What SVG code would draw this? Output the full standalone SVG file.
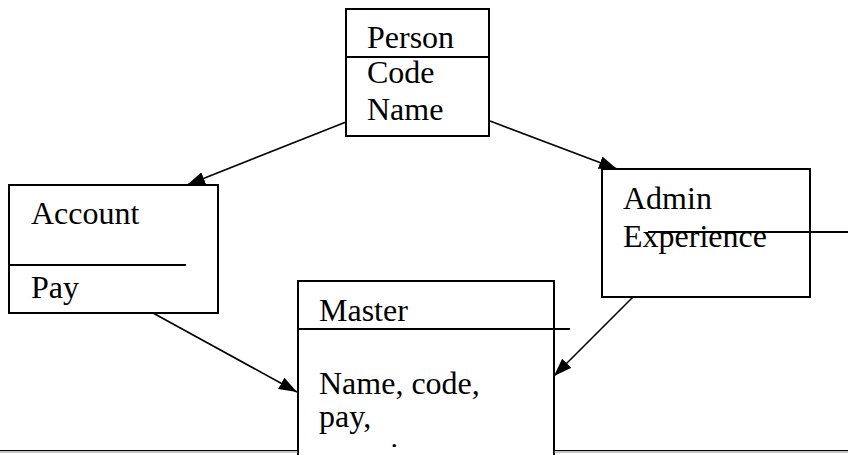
<svg xmlns="http://www.w3.org/2000/svg" width="848" height="455" viewBox="0 0 848 455">
  <style>
    .box { fill: #fff; stroke: #000; stroke-width: 2; }
    .rule { stroke: #000; stroke-width: 1.8; fill: none; }
    .edge { stroke: #000; stroke-width: 1.6; fill: none; marker-end: url(#arrow); }
    text { font-family: "Liberation Serif", "Times New Roman", serif; font-size: 32px; fill: #000; }
  </style>
  <defs>
    <marker id="arrow" viewBox="0 0 18 13" refX="18" refY="6.5" markerWidth="18" markerHeight="13" markerUnits="userSpaceOnUse" orient="auto">
      <path d="M0,0 L18,6.5 L0,13 Z" fill="#000"/>
    </marker>
    <!-- page area: content below the page break is hidden -->
    <clipPath id="page">
      <rect x="0" y="0" width="848" height="447"/>
    </clipPath>
  </defs>

  <rect width="848" height="455" fill="#fff"/>

  <g id="connectors">
    <line class="edge" x1="346" y1="122" x2="187" y2="185"/>
    <line class="edge" x1="490" y1="121" x2="617" y2="169"/>
    <line class="edge" x1="153" y1="313" x2="297" y2="392"/>
    <line class="edge" x1="633" y1="297" x2="554" y2="376"/>
  </g>

  <g id="person">
    <rect class="box" x="346" y="9" width="143" height="127"/>
    <line class="rule" x1="346" y1="57" x2="489" y2="57"/>
    <text x="367" y="48">Person</text>
    <text x="367" y="83">Code</text>
    <text x="367" y="120">Name</text>
  </g>

  <g id="account">
    <rect class="box" x="9" y="185" width="209" height="128"/>
    <line class="rule" x1="9" y1="265" x2="186" y2="265"/>
    <text x="31" y="224">Account</text>
    <text x="31" y="298">Pay</text>
  </g>

  <g id="admin">
    <rect class="box" x="602" y="169" width="208" height="128"/>
    <text x="623" y="209">Admin</text>
    <text x="623" y="247">Experience</text>
    <line class="rule" x1="648" y1="232" x2="848" y2="232"/>
  </g>

  <g id="master">
    <rect class="box" x="298" y="281" width="256" height="190"/>
    <line class="rule" x1="298" y1="329" x2="570" y2="329"/>
    <text x="319" y="321">Master</text>
    <text x="319" y="394">Name, code,</text>
    <text x="319" y="427">pay,</text>
    <text x="319" y="465" clip-path="url(#page)">experience</text>
  </g>

  <!-- page rule along the bottom -->
  <line x1="0" y1="450.5" x2="298" y2="450.5" stroke="#000" stroke-width="1.2"/>
  <line x1="0" y1="452" x2="298" y2="452" stroke="#888" stroke-width="1"/>
  <line x1="554" y1="450.5" x2="848" y2="450.5" stroke="#000" stroke-width="1.2"/>
  <line x1="554" y1="452" x2="848" y2="452" stroke="#888" stroke-width="1"/>
</svg>
